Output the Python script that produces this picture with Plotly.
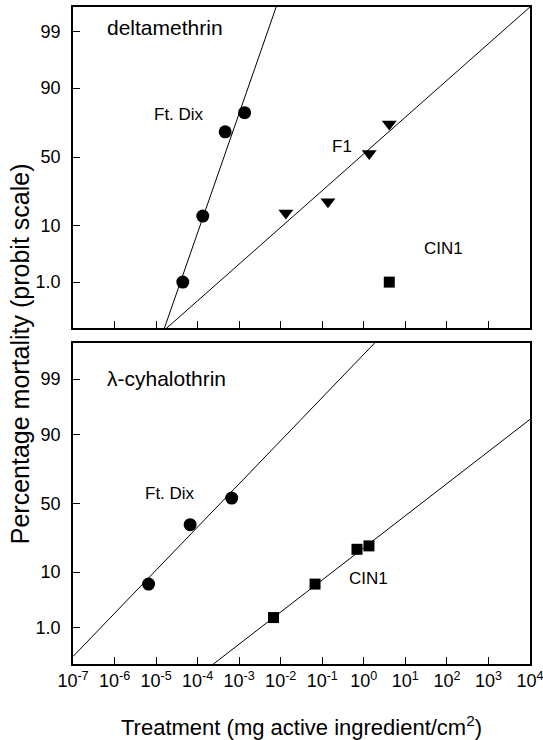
from statistics import NormalDist
import math
import plotly.graph_objects as go

nd = NormalDist()


def probit(pct):
    return nd.inv_cdf(pct / 100.0)


# ---------------- data ----------------
# x: treatment (mg a.i./cm2), y: percentage mortality
# Top panel: deltamethrin
delta_ftdix_dose = [4.4e-5, 1.33e-4, 4.6e-4, 1.35e-3]
delta_ftdix_mort = [1.0, 13.6, 68.0, 79.5]
delta_f1_dose = [0.0133, 0.137, 1.35, 4.1]
delta_f1_mort = [14.9, 20.3, 52.7, 73.0]
delta_cin1_dose = [4.1]
delta_cin1_mort = [1.0]

# Bottom panel: lambda-cyhalothrin
lambda_ftdix_dose = [6.6e-6, 6.6e-5, 6.6e-4]
lambda_ftdix_mort = [6.6, 34.6, 54.0]
lambda_cin1_dose = [6.7e-3, 0.067, 0.685, 1.33]
lambda_cin1_mort = [1.65, 6.6, 19.6, 21.4]

# fitted probit lines: (LC50 in mg/cm2, slope in probits per decade)
delta_ftdix_fit = (4.3e-4, 2.22)
delta_f1_fit = (0.82, 0.683)
lambda_ftdix_fit = (3.5e-4, 0.807)
lambda_cin1_fit = (24.0, 0.60)

# axes
x_decades = list(range(-7, 5))
x_ticktext = ["10<sup>%d</sup>" % k for k in x_decades]
y_tick_pct = [1.0, 10, 50, 90, 99]
y_ticktext = ["1.0", "10", "50", "90", "99"]

FONT = "Liberation Sans, Arial, Helvetica, sans-serif"


def fit_line(fit):
    lc50, slope = fit
    xs = [10.0 ** x_decades[0], 10.0 ** x_decades[-1]]
    ys = [slope * (math.log10(x) - math.log10(lc50)) for x in xs]
    return xs, ys


fig = go.Figure()


def add_points(x, y, symbol, size, xa, ya):
    fig.add_trace(go.Scatter(
        x=x, y=[probit(v) for v in y], mode="markers",
        marker=dict(symbol=symbol, size=size, color="black", line=dict(width=0)),
        xaxis=xa, yaxis=ya, showlegend=False, cliponaxis=False))


def add_line(fit, xa, ya):
    xs, ys = fit_line(fit)
    fig.add_trace(go.Scatter(
        x=xs, y=ys, mode="lines", line=dict(color="black", width=1),
        xaxis=xa, yaxis=ya, showlegend=False))


add_line(delta_ftdix_fit, "x", "y")
add_line(delta_f1_fit, "x", "y")
add_points(delta_ftdix_dose, delta_ftdix_mort, "circle", 13, "x", "y")
add_points(delta_f1_dose, delta_f1_mort, "triangle-down", 13, "x", "y")
add_points(delta_cin1_dose, delta_cin1_mort, "square", 11, "x", "y")

add_line(lambda_ftdix_fit, "x2", "y2")
add_line(lambda_cin1_fit, "x2", "y2")
add_points(lambda_ftdix_dose, lambda_ftdix_mort, "circle", 13, "x2", "y2")
add_points(lambda_cin1_dose, lambda_cin1_mort, "square", 11, "x2", "y2")

axis_common = dict(showline=True, mirror=True, linecolor="black", linewidth=1.5,
                   showgrid=False, zeroline=False, ticks="inside", ticklen=7,
                   tickcolor="black", tickwidth=1, automargin=False)

xax = dict(type="log", range=[x_decades[0], x_decades[-1]],
           tickvals=[10.0 ** k for k in x_decades], ticktext=x_ticktext,
           ticklabeloverflow="allow",
           tickfont=dict(family=FONT, size=18, color="black"), **axis_common)
yax = dict(tickvals=[probit(p) for p in y_tick_pct], ticktext=y_ticktext,
           tickfont=dict(family=FONT, size=18, color="black"),
           ticklabelstandoff=7, **axis_common)

fig.update_layout(
    width=543, height=740,
    margin=dict(l=73, r=13, t=7, b=76),
    paper_bgcolor="white", plot_bgcolor="white",
    font=dict(family=FONT, color="black"),
    xaxis=dict(anchor="y", domain=[0, 1], showticklabels=False, **xax),
    yaxis=dict(anchor="x", domain=[0.5114, 1], range=[-3.18, 2.79], **yax),
    xaxis2=dict(anchor="y2", domain=[0, 1], showticklabels=True, **xax),
    yaxis2=dict(anchor="x2", domain=[0, 0.4886], range=[-3.0, 3.0], **yax),
)

ann = []


def label(text, x, y, xa, ya, size=17, xanchor="center"):
    ann.append(dict(text=text, x=x, y=y, xref=xa, yref=ya, showarrow=False,
                    xanchor=xanchor, yanchor="middle",
                    font=dict(family=FONT, size=size, color="black")))


label("deltamethrin", -6.22, 2.40, "x", "y", size=21, xanchor="left")
label("Ft. Dix", -4.45, 0.80, "x", "y")
label("F1", -0.52, 0.19, "x", "y")
label("CIN1", 1.92, -1.71, "x", "y")
label("λ-cyhalothrin", -6.22, 2.33, "x2", "y2", size=21, xanchor="left")
label("Ft. Dix", -4.66, 0.19, "x2", "y2")
label("CIN1", 0.11, -1.41, "x2", "y2")

ann.append(dict(text="Percentage mortality (probit scale)", textangle=-90,
                x=-0.116, y=0.473, xref="paper", yref="paper", showarrow=False,
                xanchor="center", yanchor="middle",
                font=dict(family=FONT, size=25, color="black")))
ann.append(dict(text="Treatment (mg active ingredient/cm<sup>2</sup>)",
                x=0.5, y=-0.094, xref="paper", yref="paper", showarrow=False,
                xanchor="center", yanchor="middle",
                font=dict(family=FONT, size=22, color="black")))
fig.update_layout(annotations=ann)

fig.write_html("out.html", config={"displayModeBar": False},
               post_script="document.body.style.margin='0';document.body.style.padding='0';")
